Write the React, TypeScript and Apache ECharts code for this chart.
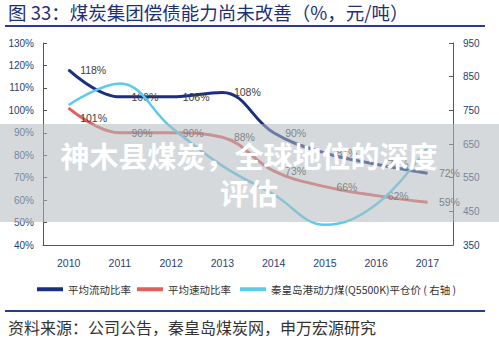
import React, { useEffect, useRef } from "react";
import * as echarts from "echarts";

const years = ["2010", "2011", "2012", "2013", "2014", "2015", "2016", "2017"];
const currentRatio = [118, 106, 106, 108, 90, 81, 76, 72];
const quickRatio = [101, 90, 90, 88, 73, 66, 62, 59];
const coalPrice = [766, 830, 700, 585, 500, 410, 470, 640];
const seriesNames = ["平均流动比率", "平均速动比率", "秦皇岛港动力煤(Q5500K)平仓价 ( 右轴 )"];
const titleText = "图 33：煤炭集团偿债能力尚未改善（%，元/吨）";
const sourceText = "资料来源：公司公告，秦皇岛煤炭网，申万宏源研究";
const overlayLines = ["神木县煤炭，全球地位的深度", "评估"];

const NAVY = "#1b2f7e";
const RED = "#e0615c";
const CYAN = "#5ccbea";
const AXIS_TEXT = "#2a3f6e";
const LATIN = "'Liberation Sans', Arial, sans-serif";
const CJK = "'Noto Sans CJK SC', 'Liberation Sans', sans-serif";

export default function App() {
  const ref = useRef<HTMLDivElement>(null);
  useEffect(() => {
    if (!ref.current) return;
    const chart = echarts.init(ref.current, null, { renderer: "svg" });
    const label = (extra: any = {}) => ({
      show: true,
      position: "right",
      distance: 11,
      color: "#404040",
      fontSize: 10.5,
      fontFamily: LATIN,
      formatter: "{c}%",
      ...extra,
    });
    const legendBase = {
      top: 284,
      padding: 0,
      itemWidth: 26,
      itemHeight: 4,
      icon: "rect",
      textStyle: { fontSize: 10.5, color: "#333", fontFamily: CJK },
    };
    chart.setOption({
      animation: false,
      backgroundColor: "#ffffff",
      grid: { left: 43, right: 46, top: 43, bottom: 101 },
      legend: [
        { ...legendBase, left: 37, data: [seriesNames[0]] },
        { ...legendBase, left: 137, data: [seriesNames[1]] },
        { ...legendBase, left: 240, data: [seriesNames[2]] },
      ],
      xAxis: {
        type: "category",
        data: years,
        boundaryGap: true,
        axisLine: { lineStyle: { color: "#555", width: 1 } },
        axisTick: { inside: true, length: 4, lineStyle: { color: "#555" } },
        axisLabel: { color: AXIS_TEXT, fontSize: 10.5, fontFamily: LATIN, margin: 12 },
      },
      yAxis: [
        {
          type: "value",
          min: 40,
          max: 130,
          interval: 10,
          axisLine: { show: true, lineStyle: { color: "#555", width: 1 } },
          axisTick: { show: true, inside: true, length: 4, lineStyle: { color: "#555" } },
          splitLine: { show: false },
          axisLabel: { color: AXIS_TEXT, fontSize: 10, fontFamily: LATIN, margin: 9, formatter: "{value}%" },
        },
        {
          type: "value",
          position: "right",
          min: 350,
          max: 950,
          interval: 100,
          axisLine: { show: true, lineStyle: { color: "#555", width: 1 } },
          axisTick: { show: true, inside: true, length: 4, lineStyle: { color: "#555" } },
          splitLine: { show: false },
          axisLabel: { color: AXIS_TEXT, fontSize: 10, fontFamily: LATIN, margin: 10 },
        },
      ],
      series: [
        {
          name: seriesNames[0],
          type: "line",
          data: currentRatio,
          smooth: 0.4,
          symbol: "circle",
          symbolSize: 1,
          itemStyle: { color: NAVY },
          lineStyle: { color: NAVY, width: 3 },
          label: label(),
          z: 3,
        },
        {
          name: seriesNames[1],
          type: "line",
          data: quickRatio.map((v, i) =>
            i === 0 ? { value: v, label: { offset: [0, 10] } } : v
          ),
          smooth: 0.4,
          symbol: "circle",
          symbolSize: 1,
          itemStyle: { color: RED },
          lineStyle: { color: RED, width: 3 },
          label: label(),
          z: 3,
        },
        {
          name: seriesNames[2],
          type: "line",
          yAxisIndex: 1,
          data: coalPrice,
          smooth: 0.4,
          symbol: "none",
          itemStyle: { color: CYAN },
          lineStyle: { color: CYAN, width: 2.5 },
          z: 4,
        },
      ],
      graphic: [
        {
          type: "text",
          left: 8,
          top: 3,
          style: { text: titleText, fontSize: 18.5, fontFamily: CJK, fill: "#1f2f74" },
        },
        {
          type: "line",
          shape: { x1: 5, y1: 26, x2: 485, y2: 26 },
          style: { stroke: "#2b3a8f", lineWidth: 2 },
        },
        {
          type: "line",
          shape: { x1: 5, y1: 311, x2: 485, y2: 311 },
          style: { stroke: "#2b3a8f", lineWidth: 2 },
        },
        {
          type: "text",
          left: 8,
          top: 319,
          style: { text: sourceText, fontSize: 16, fontFamily: CJK, fill: "#333" },
        },
        {
          type: "rect",
          z: 100,
          shape: { x: 0, y: 124, width: 499, height: 98 },
          style: { fill: "rgba(180,186,192,0.55)" },
        },
        {
          type: "text",
          z: 101,
          x: 249,
          y: 155,
          style: {
            text: overlayLines[0],
            fontSize: 29,
            fontWeight: "bold",
            fontFamily: CJK,
            fill: "#ffffff",
            align: "center",
            verticalAlign: "middle",
          },
        },
        {
          type: "text",
          z: 101,
          x: 249,
          y: 192,
          style: {
            text: overlayLines[1],
            fontSize: 29,
            fontWeight: "bold",
            fontFamily: CJK,
            fill: "#ffffff",
            align: "center",
            verticalAlign: "middle",
          },
        },
      ],
    });
    return () => chart.dispose();
  }, []);
  return <div ref={ref} style={{ width: 499, height: 346, position: "absolute", left: 0, top: 0 }} />;
}
